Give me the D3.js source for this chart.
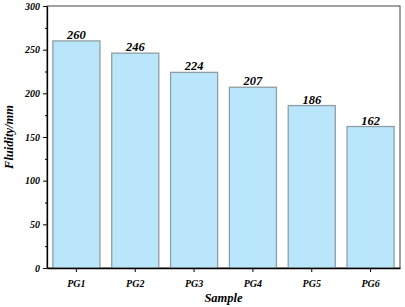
<!DOCTYPE html>
<html><head><meta charset="utf-8">
<script src="https://cdn.jsdelivr.net/npm/d3@7"></script>
<style>body{margin:0;background:#fff}svg{display:block}</style>
</head><body><svg id="c" width="405" height="307"></svg>
<script>
const categories = ["PG1","PG2","PG3","PG4","PG5","PG6"];
const values = [260,246,224,207,186,162];
const yTicks = [0,50,100,150,200,250,300];
const yMinor = [25,75,125,175,225,275];

const FONT = "'Liberation Serif','Times New Roman',serif";
const svg = d3.select("#c").attr("font-family",FONT).attr("font-weight","bold").attr("font-style","italic");
const m = {l:47, r:5, t:6, b:39};
const W = 405, H = 307;
const x = d3.scaleBand().domain(categories).range([m.l, W-m.r]).paddingInner(0.2).paddingOuter(0.1);
const y = d3.scaleLinear().domain([0,300]).range([H-m.b, m.t]);

svg.append("rect").attr("x",m.l).attr("y",m.t).attr("width",W-m.r-m.l).attr("height",H-m.b-m.t)
  .attr("fill","none").attr("stroke","#444").attr("stroke-width",1);

svg.selectAll("rect.bar").data(values).join("rect").attr("class","bar")
  .attr("x",(d,i)=>x(categories[i])).attr("width",x.bandwidth())
  .attr("y",d=>y(d)).attr("height",d=>y(0)-y(d))
  .attr("fill","#b9e6fb").attr("stroke","#8f9ea3").attr("stroke-width",1.3);

svg.selectAll("text.val").data(values).join("text").attr("class","val")
  .attr("x",(d,i)=>x(categories[i])+x.bandwidth()/2).attr("y",d=>y(d)-2)
  .attr("text-anchor","middle").attr("font-size",12.5).text(d=>d);

function styleAxis(g){
  g.attr("font-family",FONT).attr("font-weight","bold").attr("font-style","italic");
  g.selectAll("text").attr("font-size",10).attr("fill","#000");
  g.select(".domain").attr("stroke","#000").attr("stroke-width",1.3);
}
const ya = svg.append("g").attr("transform",`translate(${m.l},0)`)
  .call(d3.axisLeft(y).tickValues(yTicks).tickSize(4).tickSizeOuter(0));
styleAxis(ya);
svg.append("g").attr("transform",`translate(${m.l},0)`)
  .call(d3.axisLeft(y).tickValues(yMinor).tickSize(2).tickFormat("")).select(".domain").remove();

const xa = svg.append("g").attr("transform",`translate(0,${H-m.b})`)
  .call(d3.axisBottom(x).tickSize(4).tickSizeOuter(0));
styleAxis(xa);
xa.selectAll("text").attr("dy","1.2em");

svg.append("text").attr("x",(m.l+W-m.r)/2).attr("y",302).attr("text-anchor","middle").attr("font-size",12.5).text("Sample");
svg.append("text").attr("transform",`translate(13,${(m.t+H-m.b)/2}) rotate(-90)`).attr("text-anchor","middle").attr("font-size",12.5).text("Fluidity/mm");
</script></body></html>
